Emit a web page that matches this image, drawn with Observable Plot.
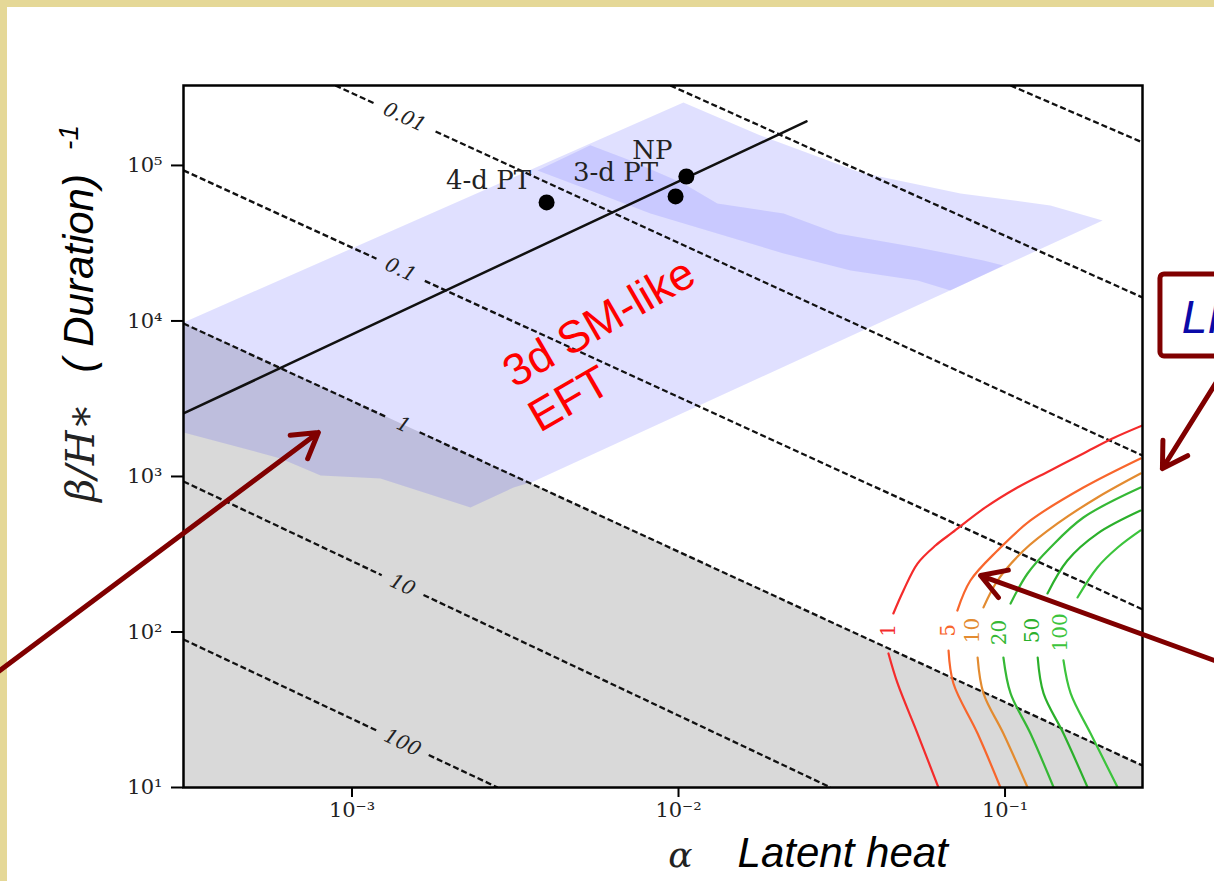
<!DOCTYPE html>
<html><head><meta charset="utf-8">
<script src="https://cdn.jsdelivr.net/npm/d3@7"></script>
<script src="https://cdn.jsdelivr.net/npm/@observablehq/plot@0.6"></script>
<style>
html,body{margin:0;padding:0;background:#fff;width:1214px;height:881px;overflow:hidden;}
#bt{position:absolute;left:0;top:0;width:1214px;height:7px;background:#e5d897;}
#bl{position:absolute;left:0;top:0;width:7px;height:881px;background:#e5d897;}
#chart{position:absolute;left:0;top:0;}
</style></head><body>
<div id="bt"></div><div id="bl"></div><div id="chart"></div>
<script>
// ---------- data (log10 α, log10 β/H*) ----------
const xDomainLog = [-3.516, -0.579];
const yDomainLog = [1.0, 5.514];
const xTicks = [1e-3, 1e-2, 1e-1];
const yTicks = [1e1, 1e2, 1e3, 1e4, 1e5];

// dashed contour lines
const dashLabels = ["0.0001", "0.001", "0.01", "0.1", "1", "10", "100"];
const dashStart = [[-0.983, 5.514], [-2.025, 5.514], [-3.051, 5.514], [-3.516, 4.968], [-3.516, 3.984], [-3.516, 2.968], [-3.516, 1.952]];
const dashEnd   = [[-0.579, 5.148], [-0.579, 4.151], [-0.579, 3.135], [-0.579, 2.145], [-0.579, 1.141], [-1.534, 1.0], [-2.554, 1.0]];
const dashLabelX = [null, null, -2.839, -2.851, -2.842, -2.845, -2.845];
const dashGap = [0, 0, 0.095, 0.074, 0.049, 0.064, 0.080];

// excluded (grey) region: below the "1" line
const greyEdge = [[-3.516, 3.984], [-0.579, 1.141]];

// light lavender band (3d SM-like EFT)
const bandLight = [[-3.516, 3.990], [-1.985, 5.405], [-1.749, 5.193], [-1.443, 4.955], [-1.136, 4.820], [-0.861, 4.743], [-0.701, 4.646],
  [-2.444, 2.968], [-2.505, 2.929], [-2.637, 2.801], [-2.913, 2.987], [-3.096, 3.006], [-3.219, 3.116], [-3.516, 3.283]];
// darker inner band
const bandDark = [[-2.432, 4.968], [-2.270, 5.129], [-2.147, 5.032], [-1.985, 4.884], [-1.881, 4.756], [-1.678, 4.691], [-1.513, 4.563],
  [-1.268, 4.473], [-1.066, 4.389], [-1.005, 4.357], [-1.167, 4.196], [-1.268, 4.260], [-1.473, 4.325], [-1.678, 4.434], [-2.086, 4.691], [-2.270, 4.839]];

// solid black line
const solidLine = [[-3.516, 3.405], [-1.608, 5.283]];

// benchmark points
const ptNames = ["4-d PT", "3-d PT", "NP"];
const ptPos = [[-2.404, 4.762], [-2.009, 4.801], [-1.976, 4.929]];
const ptLabelPos = [[-2.582, 4.904], [-2.193, 4.955], [-2.080, 5.096]];

// SNR contours
const snrLabels = ["1", "5", "10", "20", "50", "100"];
const snrColors = ["#f42b2b", "#f8662c", "#e38b30", "#35b835", "#2bb02b", "#3cc43c"];
const snrLower = [
  [[-1.204, 1.0], [-1.268, 1.347], [-1.329, 1.669], [-1.357, 1.862]],
  [[-1.014, 1.0], [-1.084, 1.347], [-1.158, 1.669], [-1.173, 1.881]],
  [[-0.931, 1.0], [-1.005, 1.347], [-1.066, 1.605], [-1.084, 1.836]],
  [[-0.851, 1.0], [-0.922, 1.347], [-0.983, 1.605], [-1.005, 1.836]],
  [[-0.747, 1.0], [-0.821, 1.347], [-0.882, 1.605], [-0.900, 1.836]],
  [[-0.655, 1.0], [-0.738, 1.347], [-0.799, 1.605], [-0.821, 1.817]]
];
const snrUpper = [
  [[-1.342, 2.119], [-1.311, 2.267], [-1.268, 2.440], [-1.213, 2.556], [-1.161, 2.640], [-1.060, 2.801], [-0.962, 2.929], [-0.861, 3.039], [-0.760, 3.148], [-0.671, 3.244], [-0.579, 3.328]],
  [[-1.146, 2.138], [-1.106, 2.331], [-1.023, 2.524], [-0.922, 2.717], [-0.760, 2.929], [-0.585, 3.116]],
  [[-1.066, 2.158], [-1.023, 2.331], [-0.943, 2.524], [-0.839, 2.698], [-0.717, 2.865], [-0.585, 3.019]],
  [[-0.983, 2.183], [-0.931, 2.376], [-0.861, 2.543], [-0.760, 2.736], [-0.585, 2.929]],
  [[-0.870, 2.248], [-0.809, 2.460], [-0.717, 2.633], [-0.585, 2.781]],
  [[-0.778, 2.222], [-0.717, 2.415], [-0.655, 2.543], [-0.585, 2.653]]
];
const snrLabelPos = [[-1.357, 2.010], [-1.173, 2.010], [-1.100, 2.010], [-1.017, 1.997], [-0.916, 2.010], [-0.830, 1.997]];

// slide annotations (log10 positions)
const arrowsFrom = [[-4.107, 1.707], [-0.325, 1.791], [-0.334, 3.669]];
const arrowsTo   = [[-3.103, 3.283], [-1.075, 2.363], [-0.518, 3.051]];
const boxCorners = [[-0.524, 3.772], [-0.217, 4.299]];
const boxText = "LISA";
const boxTextPos = [-0.459, 3.920];
const eftLines = ["3d SM-like", "EFT"];
const eftPos = [[-2.503, 3.565], [-2.425, 3.280]];
const xLabel = "α", xLabelPos = [-1.994, 0.560];
const yLabel = "β/H∗", yLabelPos = [-3.830, 3.154];
const durText = "( Duration)", durPos = [-3.792, 3.669];
const durSup = "-1", durSupPos = [-3.838, 5.100];
const heatText = "Latent heat", heatPos = [-1.819, 0.492];

// ---------- build ----------
const P = v => 10 ** v;
const W = 1214, H = 881, mL = 183, mR = 72, mT = 85, mB = 94;
const pxX = (W - mL - mR) / (xDomainLog[1] - xDomainLog[0]);
const pxY = (H - mT - mB) / (yDomainLog[1] - yDomainLog[0]);

const dashSegs = [], dashText = [];
dashLabels.forEach((lab, i) => {
  const [x0, y0] = dashStart[i], [x1, y1] = dashEnd[i];
  const s = (y1 - y0) / (x1 - x0);
  const yAt = x => y0 + s * (x - x0);
  const lc = dashLabelX[i];
  if (lc == null) dashSegs.push({x1: x0, y1: y0, x2: x1, y2: y1});
  else {
    const hw = dashGap[i];
    dashSegs.push({x1: x0, y1: y0, x2: lc - hw, y2: yAt(lc - hw)});
    dashSegs.push({x1: lc + hw, y1: yAt(lc + hw), x2: x1, y2: y1});
    dashText.push({x: lc, y: yAt(lc), text: lab, rot: Math.atan(-s * pxY / pxX) * 180 / Math.PI});
  }
});

const poly = arr => arr.map(([a, b]) => ({x: P(a), y: P(b)}));
const sup = {"-": "⁻", "0": "⁰", "1": "¹", "2": "²", "3": "³", "4": "⁴", "5": "⁵"};
const fmt = d => "10" + String(Math.round(Math.log10(d))).replace(/./g, c => sup[c]);

const snrMarks = [];
snrLabels.forEach((lab, i) => {
  for (const br of [snrLower[i], snrUpper[i]]) {
    snrMarks.push(Plot.line(poly(br), {x: "x", y: "y", stroke: snrColors[i], strokeWidth: 2.2, curve: "catmull-rom", clip: true}));
  }
  snrMarks.push(Plot.text([{x: P(snrLabelPos[i][0]), y: P(snrLabelPos[i][1])}], {x: "x", y: "y", text: () => lab, fill: snrColors[i], rotate: -90, fontSize: 20, fontFamily: "DejaVu Serif"}));
});

const arrows = arrowsFrom.map((f, i) => ({x1: P(f[0]), y1: P(f[1]), x2: P(arrowsTo[i][0]), y2: P(arrowsTo[i][1])}));

const sans = "Liberation Sans, Arial, sans-serif";
const chart = Plot.plot({
  width: W, height: H,
  marginLeft: mL, marginRight: mR, marginTop: mT, marginBottom: mB,
  x: {type: "log", domain: xDomainLog.map(P)},
  y: {type: "log", domain: yDomainLog.map(P)},
  style: {background: "transparent", fontFamily: "DejaVu Serif", overflow: "visible"},
  marks: [
    Plot.areaY(poly(greyEdge), {x: "x", y1: P(yDomainLog[0]), y2: "y", fill: "#d9d9d9", clip: true}),
    Plot.line(poly(bandLight), {x: "x", y: "y", fill: "blue", fillOpacity: 0.12, stroke: "none", clip: true}),
    Plot.line(poly(bandDark), {x: "x", y: "y", fill: "blue", fillOpacity: 0.1, stroke: "none", clip: true}),
    Plot.link(dashSegs, {x1: d => P(d.x1), y1: d => P(d.y1), x2: d => P(d.x2), y2: d => P(d.y2), stroke: "#111", strokeWidth: 2.3, strokeDasharray: "6,3", clip: true}),
    Plot.text(dashText, {x: d => P(d.x), y: d => P(d.y), text: "text", rotate: "rot", fontSize: 20, fill: "#222", fontFamily: "DejaVu Serif", fontStyle: "italic"}),
    Plot.line(poly(solidLine), {x: "x", y: "y", stroke: "#111", strokeWidth: 2.5, clip: true}),
    ...snrMarks,
    Plot.dot(poly(ptPos), {x: "x", y: "y", r: 8, fill: "#000"}),
    Plot.text(ptNames.map((n, i) => ({n, x: P(ptLabelPos[i][0]), y: P(ptLabelPos[i][1])})), {x: "x", y: "y", text: "n", fontSize: 26, fill: "#222", fontFamily: "DejaVu Serif"}),
    Plot.frame({stroke: "#000", strokeWidth: 2.5}),
    Plot.axisX({ticks: xTicks, tickFormat: fmt, tickSize: 10, tickPadding: 5, fontSize: 21, strokeWidth: 2, stroke: "#000", fill: "#222", label: null, fontFamily: "DejaVu Serif"}),
    Plot.axisY({ticks: yTicks, tickFormat: fmt, tickSize: 12, tickPadding: 9, fontSize: 21, strokeWidth: 2, stroke: "#000", fill: "#222", label: null, fontFamily: "DejaVu Serif"}),
    Plot.text([xLabel], {x: P(xLabelPos[0]), y: P(xLabelPos[1]), text: d => d, fontSize: 36, fontStyle: "italic", fill: "#222", fontFamily: "DejaVu Serif"}),
    Plot.text([yLabel], {x: P(yLabelPos[0]), y: P(yLabelPos[1]), text: d => d, fontSize: 40, fontStyle: "italic", rotate: -90, fill: "#222", fontFamily: "DejaVu Serif"}),
    Plot.text([durText], {x: P(durPos[0]), y: P(durPos[1]), text: d => d, fontSize: 42, fontStyle: "italic", rotate: -90, textAnchor: "start", lineAnchor: "bottom", fill: "#000", fontFamily: sans}),
    Plot.text([durSup], {x: P(durSupPos[0]), y: P(durSupPos[1]), text: d => d, fontSize: 28, fontStyle: "italic", rotate: -90, textAnchor: "start", lineAnchor: "bottom", fill: "#000", fontFamily: sans}),
    Plot.text([heatText], {x: P(heatPos[0]), y: P(heatPos[1]), text: d => d, fontSize: 42, fontStyle: "italic", textAnchor: "start", lineAnchor: "bottom", fill: "#000", fontFamily: sans}),
    Plot.text(eftLines.map((t, i) => ({t, x: P(eftPos[i][0]), y: P(eftPos[i][1])})), {x: "x", y: "y", text: "t", fontSize: 45, rotate: -30, textAnchor: "start", lineAnchor: "bottom", fill: "#ff0000", fontFamily: sans}),
    Plot.rect([0], {x1: P(boxCorners[0][0]), x2: P(boxCorners[1][0]), y1: P(boxCorners[0][1]), y2: P(boxCorners[1][1]), fill: "#fff", stroke: "#800000", strokeWidth: 5, rx: 4}),
    Plot.text([boxText], {x: P(boxTextPos[0]), y: P(boxTextPos[1]), text: d => d, fontSize: 46, fontStyle: "italic", textAnchor: "start", lineAnchor: "bottom", fill: "#0a0aa8", fontFamily: sans}),
    Plot.arrow(arrows, {x1: "x1", y1: "y1", x2: "x2", y2: "y2", stroke: "#800000", strokeWidth: 5, headLength: 8.5, headAngle: 62})
  ]
});
document.getElementById("chart").appendChild(chart);
</script>
</body></html>
